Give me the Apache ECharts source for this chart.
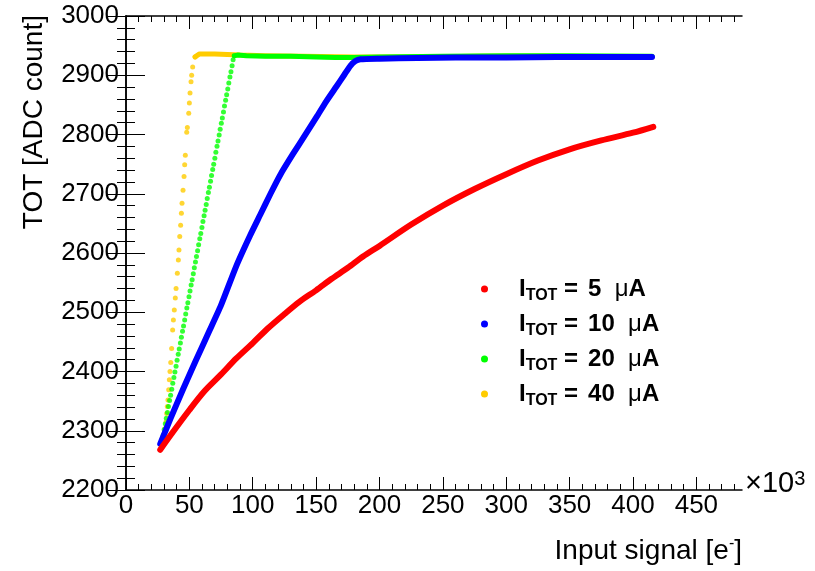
<!DOCTYPE html>
<html><head><meta charset="utf-8">
<script src="https://cdn.jsdelivr.net/npm/echarts@6/dist/echarts.min.js"></script>
<style>html,body{margin:0;padding:0;background:#fff}#c{width:815px;height:571px}</style>
</head><body><div id="c"></div>
<script>
// ---- tick values ----
const xMajorTicks = [0,50,100,150,200,250,300,350,400,450];
const xMinorTicks = [0,10,20,30,40,50,60,70,80,90,100,110,120,130,140,150,160,170,180,190,200,210,220,230,240,250,260,270,280,290,300,310,320,330,340,350,360,370,380,390,400,410,420,430,440,450,460,470,480];
const xMin = 0, xMax = 486;
const yMin = 2200, yMax = 3000, yStep = 100;

// ---- series names / legend (I_TOT in uA) ----
const seriesNames = ['5', '10', '20', '40'];

// ---- I_TOT = 5 uA (red) ----
const redX = [27.0,35,50,62,75,87,100,112,125,137,150,162,175,187,200,225,250,275,300,325,350,375,400,416];
const redY = [2268,2292,2335,2367,2395,2422,2448,2473,2497,2518,2537,2556,2575,2594,2612,2648,2680,2708,2733,2756,2775,2790,2803,2813];

// ---- I_TOT = 10 uA (blue) ----
const blueX = [27.0,35,45,55,65,75,87,98,106,114,122,132,141,150.5,158,166,172,177,181,185,200,230,260,300,340,380,415];
const blueY = [2278,2320,2370,2418,2465,2512,2578,2630,2665,2700,2733,2768,2798,2830,2856,2881,2900,2916,2924,2927,2928,2929,2930,2930,2931,2931,2931];

// ---- I_TOT = 20 uA (green) ----
const greenRiseX = [28.4,29.3,30.1,31.0,31.8,32.7,33.5,34.4,35.2,36.1,36.9,37.8,38.6,39.5,40.3,41.2,42.0,42.9,43.7,44.6,45.4,46.3,47.1,48.0,48.8,49.7,50.5,51.4,52.2,53.1,53.9,54.8,55.6,56.5,57.3,58.2,59.0,59.9,60.7,61.6,62.4,63.3,64.1,65.0,65.8,66.7,67.5,68.4,69.2,70.1,70.9,71.8,72.6,73.5,74.3,75.2,76.0,76.9,77.7,78.6,79.4,80.3,81.1,82.0,82.8,83.7,84.5,85.4];
const greenRiseY = [2283,2292,2302,2312,2321,2331,2341,2351,2360,2370,2380,2390,2399,2409,2419,2429,2438,2448,2458,2468,2477,2487,2497,2507,2516,2526,2536,2546,2555,2565,2575,2585,2594,2604,2614,2624,2633,2643,2653,2663,2672,2682,2692,2702,2711,2721,2731,2741,2750,2760,2770,2780,2789,2799,2809,2819,2828,2838,2848,2858,2867,2877,2887,2897,2906,2916,2926,2933];
const greenFlatX = [85.4,88,95,110,130,150,165,180,200,250,300,350,415];
const greenFlatY = [2933,2934,2933,2932,2932,2931,2930,2930,2931,2932,2933,2933,2932];

// ---- I_TOT = 40 uA (yellow) ----
const yellowRiseX = [28.9,30.0,30.8,31.6,32.1,32.6,33.1,33.7,34.2,34.7,35.3,36.0,36.8,37.4,38.1,38.9,39.5,40.5,41.3,41.8,42.4,43.1,43.7,44.2,45.0,45.8,46.3,46.8,47.9,48.4,49.5,50.0,50.5,51.3,51.8,52.6,54.5];
const yellowRiseY = [2284,2293,2304,2315,2329,2341,2352,2369,2386,2400,2415,2439,2470,2487,2504,2524,2540,2566,2588,2605,2628,2647,2667,2684,2706,2729,2749,2765,2804,2812,2836,2853,2870,2889,2900,2914,2931];
const yellowFlatX = [54.5,56,58,62,70,80,90,110,140,180,230,280,330,380,415];
const yellowFlatY = [2931,2934,2936,2936,2936,2935,2934,2933,2932,2931,2931,2932,2932,2931,2931];

const colors = {'5':'#ff0000','10':'#0000ff','20':'#00ff00','40':'#ffcc00'};
const FONT = "'Liberation Sans', Arial, Helvetica, sans-serif";

function zip(xs, ys){ return xs.map((x,i)=>[x, ys[i]]); }
function lineSeries(name, xs, ys, smooth, w){
  return {name, type:'line', data: zip(xs,ys), showSymbol:false, symbol:'none', smooth: smooth || false,
    lineStyle:{width:w || 5, color:colors[name], cap:'round', join:'round'}, itemStyle:{color:colors[name]}};
}
function dotSeries(name, xs, ys){
  return {name, type:'scatter', data: zip(xs,ys), symbol:'circle', symbolSize:5,
    itemStyle:{color:colors[name]}};
}

const chart = echarts.init(document.getElementById('c'), null, {renderer:'canvas'});
const axisLine = {show:true, lineStyle:{color:'#000', width:1.5}};
const grid = {left:126, top:16, right:73, bottom:81};

const option = {
  animation:false,
  backgroundColor:'#fff',
  grid,
  legend:{
    orient:'vertical', left:481, top:277, padding:0, itemWidth:7, itemHeight:7, itemGap:8,
    icon:'circle', selectedMode:false,
    data:seriesNames,
    formatter: n => '{g| }{b|I}{s|TOT}{b| =}{h| }{b|' + n + '  }{m|μ}{b|A}',
    textStyle:{
      rich:{
        g:{width:26, fontSize:10},
        h:{width:10, fontSize:10},
        b:{fontFamily:FONT, fontWeight:'bold', fontSize:24, lineHeight:30, color:'#000'},
        s:{fontFamily:FONT, fontWeight:'bold', fontSize:16, lineHeight:12, verticalAlign:'bottom', color:'#000'},
        m:{fontFamily:FONT, fontWeight:'normal', fontSize:24, lineHeight:30, color:'#000'}
      }
    }
  },
  xAxis:[
    {type:'value', position:'bottom', min:xMin, max:xMax, axisLine,
      axisTick:{show:true, inside:true, length:13, customValues:xMajorTicks, lineStyle:{color:'#000', width:1}},
      axisLabel:{show:true, customValues:xMajorTicks, margin:3, fontFamily:FONT, fontSize:26, color:'#000',
        formatter: v => String(v)},
      splitLine:{show:false}},
    {type:'value', position:'bottom', min:xMin, max:xMax, axisLine:{show:false},
      axisTick:{show:true, inside:true, length:6, customValues:xMinorTicks, lineStyle:{color:'#000', width:1}},
      axisLabel:{show:false}, splitLine:{show:false}},
    {type:'value', position:'top', min:xMin, max:xMax, axisLine,
      axisTick:{show:true, inside:true, length:13, customValues:xMajorTicks, lineStyle:{color:'#000', width:1}},
      axisLabel:{show:false}, splitLine:{show:false}},
    {type:'value', position:'top', min:xMin, max:xMax, axisLine:{show:false},
      axisTick:{show:true, inside:true, length:6, customValues:xMinorTicks, lineStyle:{color:'#000', width:1}},
      axisLabel:{show:false}, splitLine:{show:false}}
  ],
  yAxis:[
    {type:'value', position:'left', min:yMin, max:yMax, interval:yStep, axisLine,
      axisTick:{show:true, inside:true, length:19, lineStyle:{color:'#000', width:1}},
      minorTick:{show:true, splitNumber:5, length:9, lineStyle:{color:'#000', width:1}},
      axisLabel:{show:true, margin:7, fontFamily:FONT, fontSize:26, color:'#000', formatter: v => String(v)},
      splitLine:{show:false}, minorSplitLine:{show:false}},
    {type:'value', position:'right', min:yMin, max:yMax, interval:yStep, axisLine,
      axisTick:{show:true, inside:true, length:19, lineStyle:{color:'#000', width:1}},
      minorTick:{show:true, splitNumber:5, length:9, lineStyle:{color:'#000', width:1}},
      axisLabel:{show:false}, splitLine:{show:false}, minorSplitLine:{show:false}}
  ],
  series:[
    lineSeries('40', yellowFlatX, yellowFlatY, false, 5),
    dotSeries('40', yellowRiseX, yellowRiseY),
    lineSeries('20', greenFlatX, greenFlatY, false, 5),
    dotSeries('20', greenRiseX, greenRiseY),
    lineSeries('10', blueX, blueY, 0.2, 6),
    lineSeries('5', redX, redY, 0.3, 6)
  ],
  graphic:[
    {type:'text', x:34, y:15, rotation:Math.PI/2, silent:true,
      style:{text:'TOT [ADC count]', font:'28px ' + FONT, fill:'#000', align:'right', verticalAlign:'middle'}},
    {type:'text', x:742, y:551, silent:true,
      style:{text:'{t|Input signal [e}{p|-}{t|]}', align:'right', verticalAlign:'middle',
        rich:{t:{fontFamily:FONT, fontSize:28, lineHeight:30, fill:'#000'},
              p:{fontFamily:FONT, fontSize:16, lineHeight:14, verticalAlign:'top', fill:'#000'}}}},
    {type:'text', x:745, y:484, silent:true,
      style:{text:'{t|×10}{p|3}', align:'left', verticalAlign:'middle',
        rich:{t:{fontFamily:FONT, fontSize:29, lineHeight:30, fill:'#000'},
              p:{fontFamily:FONT, fontSize:20, lineHeight:18, verticalAlign:'top', fill:'#000'}}}}
  ]
};
chart.setOption(option);
</script></body></html>
